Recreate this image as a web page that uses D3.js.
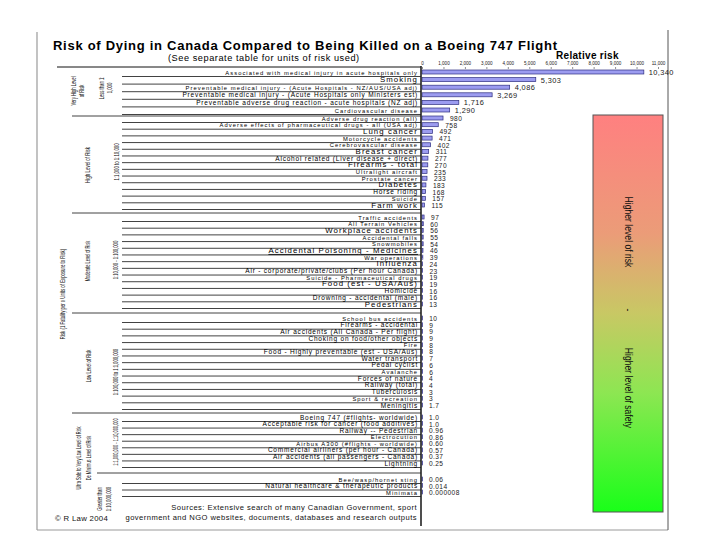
<!DOCTYPE html>
<html><head><meta charset="utf-8">
<script src="https://cdn.jsdelivr.net/npm/d3@7"></script>
<style>
body{margin:0;background:#fff}
svg{display:block}
text{font-family:Arial,"Liberation Sans",sans-serif}
</style>
</head><body>
<svg id="chart" width="720" height="540"></svg>
<script>
// ---------------- DATA ----------------
const veryHighCats = [
  "Associated with medical injury in acute hospitals only",
  "Smoking",
  "Preventable medical injury - (Acute Hospitals - NZ/AUS/USA adj)",
  "Preventable medical injury - (Acute Hospitals only Ministers est)",
  "Preventable adverse drug reaction - acute hospitals (NZ adj)",
  "Cardiovascular disease"];
const veryHighVals = ["10340","5303","4086","3269","1716","1290"];

const highCats = [
  "Adverse drug reaction (all)",
  "Adverse effects of pharmaceutical drugs - all (USA adj)",
  "Lung cancer","Motorcycle accidents","Cerebrovascular disease","Breast cancer",
  "Alcohol related (Liver disease + direct)","Firearms - total","Ultralight aircraft",
  "Prostate cancer","Diabetes","Horse riding","Suicide","Farm work"];
const highVals = ["980","758","492","471","402","311","277","270","235","233","183","168","157","115"];

const moderateCats = [
  "Traffic accidents","All Terrain Vehicles","Workplace accidents","Accidental falls",
  "Snowmobiles","Accidental Poisoning - Medicines","War operations","Influenza",
  "Air - corporate/private/clubs (Per hour Canada)","Suicide - Pharmaceutical drugs",
  "Food (est - USA/Aus)","Homicide","Drowning - accidental (male)","Pedestrians"];
const moderateVals = ["97","60","56","55","54","46","39","24","23","19","19","16","16","13"];

const lowCats = [
  "School bus accidents","Firearms - accidental","Air accidents (All Canada - Per flight)",
  "Choking on food/other objects","Fire","Food - Highly preventable (est - USA/Aus)",
  "Water transport","Pedal cyclist","Avalanche","Forces of nature","Railway (total)",
  "Tuberculosis","Sport & recreation","Meningitis"];
const lowVals = ["10","9","9","9","8","8","7","6","6","4","4","3","3","1.7"];

const ultraCats = [
  "Boeing 747 (#flights- worldwide)","Acceptable risk for cancer (food additives)",
  "Railway -- Pedestrian","Electrocution","Airbus A300 (#flights - worldwide)",
  "Commercial airliners (per hour - Canada)","Air accidents (all passengers - Canada)","Lightning"];
const ultraVals = ["1.0","1.0","0.96","0.86","0.60","0.57","0.37","0.25"];

const minimusCats = ["Bee/wasp/hornet sting","Natural healthcare & therapeutic products","Minimata"];
const minimusVals = ["0.06","0.014","0.000008"];

const xTicks = [0,1000,2000,3000,4000,5000,6000,7000,8000,9000,10000,11000];

const titleText = "Risk of Dying in Canada Compared to Being Killed on a Boeing 747 Flight";
const subtitleText = "(See separate table for units of risk used)";
const axisTitle = "Relative risk";
const riskAxisLabel = "Risk (1 Fatality per x Units of Exposure to Risk)";
const levelLabels = [["Very High Level","of Risk"],["High Level of Risk"],["Moderate Level of Risk"],
  ["Low Level of Risk"],["Ultra Safe to Very Low Level of Risk","De Minimus Level of Risk"]];
const rangeLabels = [["Less than 1:","1,000"],["1:1,000 to 1:10,000"],["1:10,000 - 1:100,000"],
  ["1:100,000 to 1:1,000,000"],["1:1,000,000 - 1:10,000,000"],["Greater than","1:10,000,000"]];
const gradientTexts = ["Higher level of risk","-","Higher level of safety"];
const sourceLines = ["Sources: Extensive search of many Canadian Government, sport",
  "government and NGO websites, documents, databases and research outputs"];
const copyright = "\u00A9 R Law 2004";

// ---------------- LAYOUT / STYLE ----------------
const svg = d3.select("#chart");
const groups = [
  {cats: veryHighCats, vals: veryHighVals, range: [72,110]},
  {cats: highCats, vals: highVals, range: [118,205]},
  {cats: moderateCats, vals: moderateVals, range: [217,304]},
  {cats: lowCats, vals: lowVals, range: [318,405]},
  {cats: ultraCats, vals: ultraVals, range: [417,463]},
  {cats: minimusCats, vals: minimusVals, range: [479,492]}
];
const bigLabels = new Set(["Smoking","Lung cancer","Breast cancer","Firearms - total","Diabetes","Farm work",
  "Workplace accidents","Accidental Poisoning - Medicines","Influenza","Food (est - USA/Aus)","Pedestrians"]);
const smallLabels = new Set(["Associated with medical injury in acute hospitals only",
  "Preventable medical injury - (Acute Hospitals - NZ/AUS/USA adj)","Cardiovascular disease",
  "Adverse drug reaction (all)","Adverse effects of pharmaceutical drugs - all (USA adj)",
  "Motorcycle accidents","Cerebrovascular disease","Prostate cancer","Suicide","Traffic accidents",
  "All Terrain Vehicles","Accidental falls","Snowmobiles","War operations","Suicide - Pharmaceutical drugs",
  "School bus accidents","Fire","Avalanche","Sport & recreation","Bee/wasp/hornet sting","Minimata",
  "Electrocution","Airbus A300 (#flights - worldwide)","Ultralight aircraft"]);
const labelStyle = c => bigLabels.has(c) ? {fs: 7.8, ls: 1.1}
  : smallLabels.has(c) ? {fs: 5.8, ls: 1.05} : {fs: 6.5, ls: 0.8};

const x = d3.scaleLinear().domain([0, 11000]).range([422, 658]);
const num = s => +s;
const fmt = s => (+s >= 1000 ? d3.format(",")(+s) : s);

// outer frame
const frame = svg.append("g").attr("stroke", "#9a9a9a").attr("stroke-width", 1.2);
frame.append("line").attr("x1", 37).attr("x2", 37).attr("y1", 32).attr("y2", 530);
frame.append("line").attr("x1", 37).attr("x2", 668).attr("y1", 530).attr("y2", 530);
svg.append("line").attr("x1", 668).attr("x2", 668).attr("y1", 30).attr("y2", 530)
  .attr("stroke", "#555").attr("stroke-width", 1);

// title
svg.append("text").attr("x", 53).attr("y", 50).attr("font-size", 13).attr("font-weight", "bold")
  .attr("letter-spacing", 0.72).text(titleText);
svg.append("text").attr("x", 168).attr("y", 61).attr("font-size", 9.2).attr("letter-spacing", 0.55)
  .text(subtitleText);
svg.append("text").attr("x", 556).attr("y", 59).attr("font-size", 10).attr("font-weight", "bold")
  .attr("letter-spacing", 0.3).text(axisTitle);

// top axis
const axis = svg.append("g").attr("transform", "translate(0,69)")
  .call(d3.axisTop(x).tickValues(xTicks).tickSize(2).tickPadding(2).tickFormat(d3.format(",")));
axis.select(".domain").remove();
axis.selectAll("text").attr("font-size", 4.6).attr("font-family", "Arial, sans-serif").attr("fill", "#222");
axis.selectAll("line").attr("stroke", "#444").attr("stroke-width", 0.6);

// table top line
svg.append("line").attr("x1", 57).attr("x2", 421).attr("y1", 67).attr("y2", 67)
  .attr("stroke", "#111").attr("stroke-width", 1);

// rows
groups.forEach((g, gi) => {
  const y = d3.scalePoint().domain(g.cats).range(g.range);
  const data = g.cats.map((c, i) => ({c, v: g.vals[i]}));
  const gg = svg.append("g");
  gg.selectAll("line.under").data(data).join("line")
    .attr("x1", 122).attr("x2", 421)
    .attr("y1", d => y(d.c) + 4.5).attr("y2", d => y(d.c) + 4.5)
    .attr("stroke", "#111").attr("stroke-width", 0.8);
  gg.selectAll("text.cat").data(data).join("text")
    .attr("x", 418).attr("y", d => y(d.c) + 2.5)
    .attr("text-anchor", "end")
    .attr("font-size", d => labelStyle(d.c).fs)
    .attr("letter-spacing", d => labelStyle(d.c).ls)
    .attr("fill", "#000")
    .attr("text-decoration", d => d.c === "Accidental Poisoning - Medicines" ? "underline" : null)
    .text(d => d.c);
  gg.selectAll("rect").data(data).join("rect")
    .attr("x", x(0)).attr("y", d => y(d.c) - 2)
    .attr("width", d => Math.max(0.5, x(num(d.v)) - x(0))).attr("height", 4)
    .attr("fill", "#9c9cf0").attr("stroke", "#2e2e80").attr("stroke-width", 0.7);
  gg.selectAll("text.val").data(data).join("text")
    .attr("x", d => x(num(d.v)) + (gi === 0 ? 5 : 7))
    .attr("y", d => y(d.c) + 3)
    .attr("font-size", gi === 0 ? 7.4 : 6.6).attr("letter-spacing", 0.4)
    .attr("fill", "#222")
    .text(d => fmt(d.v));
  if (gi > 0) {
    const prev = groups[gi - 1];
    const sy = (prev.range[1] + g.range[0]) / 2 + 2;
    svg.append("line").attr("x1", gi === 5 ? 97 : 72).attr("x2", 421)
      .attr("y1", sy).attr("y2", sy).attr("stroke", "#111").attr("stroke-width", 0.8);
  }
});

// vertical axis line
svg.append("line").attr("x1", 421).attr("x2", 421).attr("y1", 66).attr("y2", 526)
  .attr("stroke", "#222").attr("stroke-width", 1.6);

// rotated condensed labels
function vlabel(px, cy, txt, size, squash) {
  svg.append("text")
    .attr("transform", `translate(${px},${cy}) rotate(-90) scale(${squash},1)`)
    .attr("text-anchor", "middle").attr("dominant-baseline", "middle")
    .attr("font-size", size).attr("fill", "#111").text(txt);
}
vlabel(63, 294, riskAxisLabel, 7.2, 0.6);
vlabel(74, 91, levelLabels[0][0], 7.2, 0.58);
vlabel(82, 91, levelLabels[0][1], 7.2, 0.58);
vlabel(88, 165, levelLabels[1][0], 7.2, 0.62);
vlabel(88, 261, levelLabels[2][0], 7.2, 0.55);
vlabel(89, 366, levelLabels[3][0], 7.2, 0.58);
vlabel(79, 458, levelLabels[4][0], 7.2, 0.55);
vlabel(89, 458, levelLabels[4][1], 7.2, 0.55);
vlabel(102, 88, rangeLabels[0][0], 7.2, 0.58);
vlabel(110, 88, rangeLabels[0][1], 7.2, 0.58);
vlabel(117, 162, rangeLabels[1][0], 7.2, 0.6);
vlabel(116, 260, rangeLabels[2][0], 7.2, 0.58);
vlabel(116, 372, rangeLabels[3][0], 7.2, 0.58);
vlabel(116, 442, rangeLabels[4][0], 7.2, 0.55);
vlabel(100, 499, rangeLabels[5][0], 7.2, 0.58);
vlabel(109, 499, rangeLabels[5][1], 7.2, 0.58);

// gradient box
const defs = svg.append("defs");
const lg = defs.append("linearGradient").attr("id", "riskGrad")
  .attr("x1", 0).attr("y1", 0).attr("x2", 0).attr("y2", 1);
[[0, "#ff8080"], [0.3, "#eb9c78"], [0.5, "#c8c864"], [0.7, "#8de652"], [1, "#19ff19"]]
  .forEach(([o, c]) => lg.append("stop").attr("offset", o).attr("stop-color", c));
svg.append("rect").attr("x", 593).attr("y", 115).attr("width", 70).attr("height", 397)
  .attr("fill", "url(#riskGrad)").attr("stroke", "#555").attr("stroke-width", 1);
[[232, gradientTexts[0]], [310, gradientTexts[1]], [388, gradientTexts[2]]].forEach(([cy, t]) => {
  svg.append("text")
    .attr("transform", `translate(628,${cy}) rotate(90) scale(0.82,1)`)
    .attr("text-anchor", "middle").attr("dominant-baseline", "middle")
    .attr("font-size", 10.5).attr("fill", "#111").text(t);
});

// footer
svg.selectAll("text.src").data(sourceLines).join("text")
  .attr("x", 417).attr("y", (d, i) => 510 + i * 9.5).attr("text-anchor", "end")
  .attr("font-size", 7.6).attr("letter-spacing", 0.45).attr("fill", "#111").text(d => d);
svg.append("text").attr("x", 55).attr("y", 521).attr("font-size", 7.8).attr("letter-spacing", 0.3)
  .attr("fill", "#111").text(copyright);
</script>
</body></html>
